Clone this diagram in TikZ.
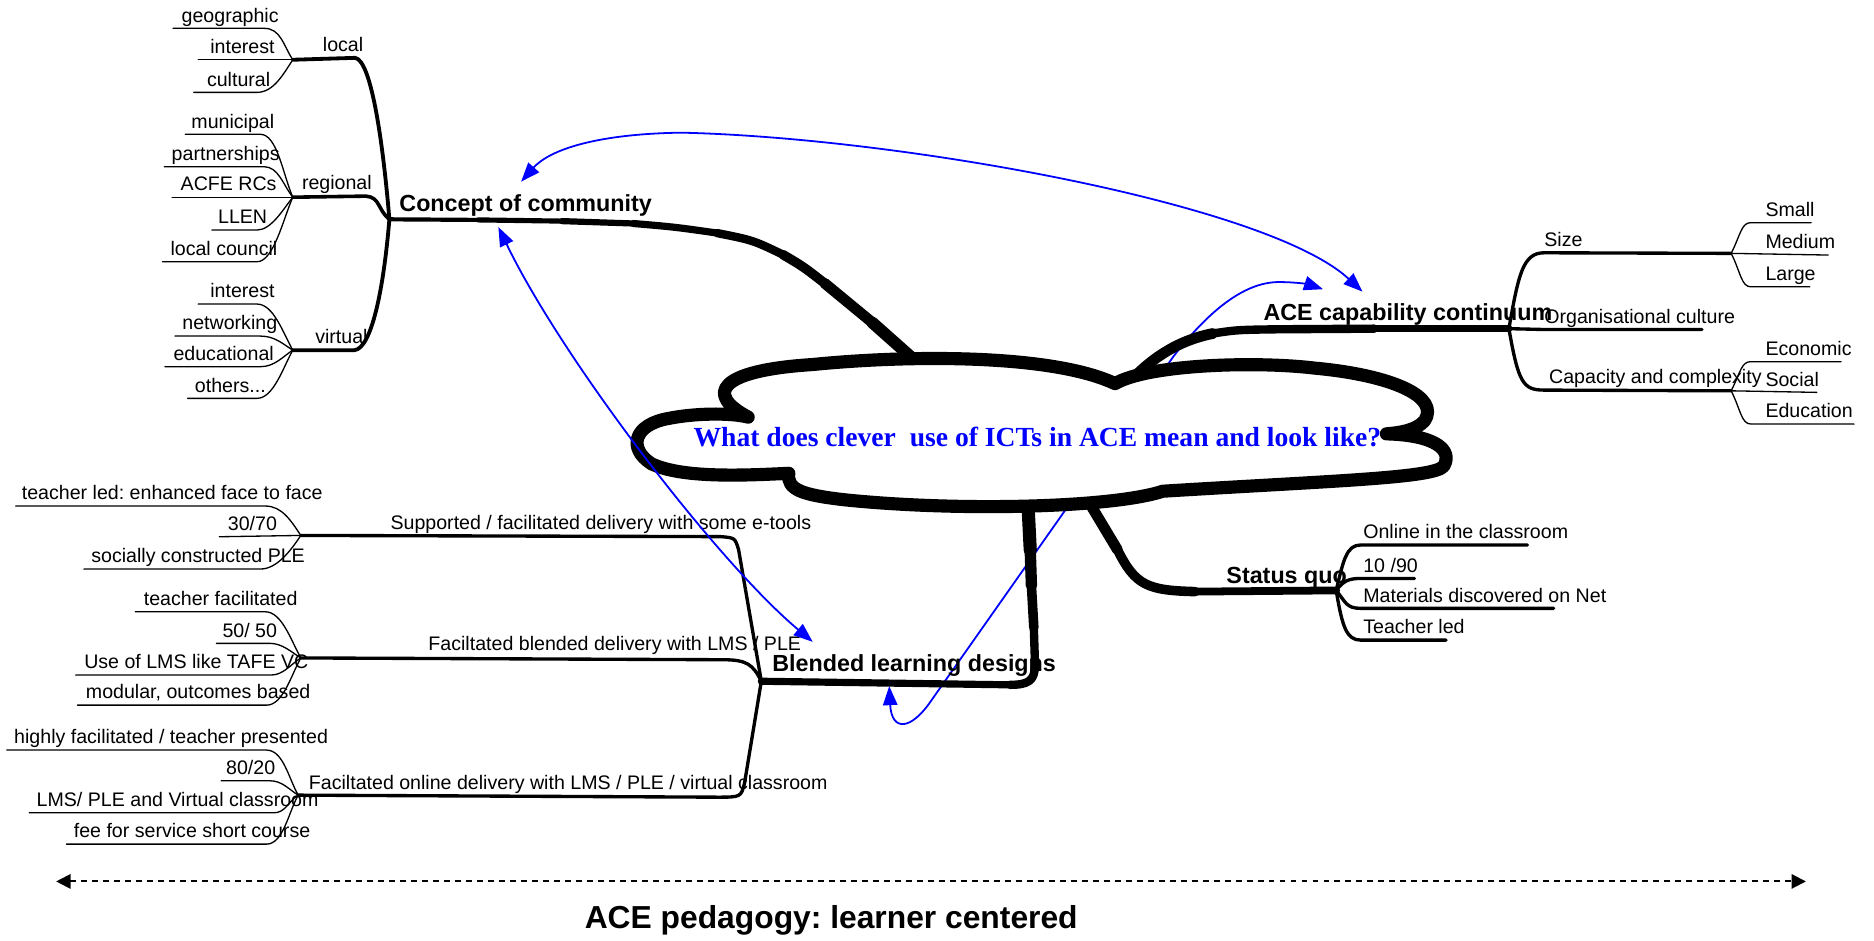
\documentclass[tikz,border=0pt]{standalone}
\usepackage{fontspec}
\setmainfont{Liberation Sans}
\newfontfamily\cloudfont{Liberation Serif}
\usetikzlibrary{arrows.meta}

\begin{document}
\frenchspacing
\begin{tikzpicture}[x=1pt, y=-1pt, line cap=round, line join=round,
  leaf/.style={anchor=south west, inner xsep=0pt, inner ysep=0pt, text depth=5pt, font=\fontsize{16.4}{19}\selectfont},
  heading/.style={anchor=south west, inner xsep=0pt, inner ysep=0pt, text depth=6pt, font=\fontsize{19.5}{23}\selectfont\bfseries},
  twig/.style={line width=1.1pt},
  branch/.style={line width=2.8pt},
  link/.style={draw=blue, line width=1.5pt, arrows={Triangle[length=16pt,width=12pt]-Triangle[length=16pt,width=12pt]}}]
\useasboundingbox (0,0) rectangle (1568,787);
% Hubs and junctions
\coordinate (hcc) at (325.8,183.5);
\coordinate (hace) at (1262.5,275);
\coordinate (hsq) at (1118,494);
\coordinate (hbl) at (637,570);
\coordinate (jloc) at (245,50);
\coordinate (jreg) at (245,165);
\coordinate (jvir) at (245,293);
\coordinate (jsize) at (1448.5,212);
\coordinate (jcap) at (1448.5,327);
\coordinate (jsup) at (251.7,448);
\coordinate (jmid) at (251.7,550.5);
\coordinate (jlow) at (249.5,665.3);
% Blue link that runs behind the cloud
\coordinate (bltipA) at (744,574);
\coordinate (acetipA) at (1107,242);
\draw[link] (bltipA) .. controls (746,612) and (762,612) .. (780,585) -- (982,298) .. controls (1010,262) and (1040,236) .. (1070,236) .. controls (1085,236) and (1095,238) .. (acetipA);
% Trunk to Concept of community
\draw[line width=3.5pt] (hcc) -- (400,184);
\draw[line width=4.3pt] (400,184) -- (470,185);
\draw[line width=5.2pt] (470,185) -- (530,187);
\draw[line width=6pt] (530,187) .. controls (565,190) .. (600,195);
\draw[line width=7pt] (600,195) .. controls (630,201) .. (655,213);
\draw[line width=8pt] (655,213) .. controls (672,223) .. (690,237);
\draw[line width=9pt] (690,237) -- (730,270);
\draw[line width=10pt] (730,270) -- (775,310);
% Trunk to ACE capability continuum
\draw[line width=9pt] (940,325) .. controls (962,300) and (985,285) .. (1015,279);
\draw[line width=7pt] (1015,279) .. controls (1035,276) .. (1070,275.5) -- (1150,275);
\draw[line width=6pt] (1150,275) -- (hace);
% Trunk to Status quo
\draw[line width=9pt] (908,415) .. controls (920,435) .. (935,460);
\draw[line width=8pt] (935,460) .. controls (950,490) and (960,494) .. (1000,495);
\draw[line width=6.5pt] (1000,495) -- (hsq);
% Trunk to Blended learning designs
\draw[line width=11pt] (860,420) -- (862,460);
\draw[line width=9.5pt] (862,460) -- (863,490);
\draw[line width=8pt] (863,490) -- (865,525);
\draw[line width=7pt] (865,525) -- (866,556) .. controls (866,570) and (860,573) .. (845,573);
\draw[line width=6pt] (845,573) -- (hbl);
% Cloud
\draw[line width=11pt, fill=white] (626,349) .. controls (590,330) and (600,310) .. (680,305)
  .. controls (760,297) and (880,296) .. (933,321)
  .. controls (960,305) and (1050,302) .. (1100,308)
  .. controls (1165,314) and (1205,332) .. (1192,352)
  .. controls (1185,360) and (1172,362) .. (1160,363)
  .. controls (1200,364) and (1216,376) .. (1208,390)
  .. controls (1200,400) and (1120,402) .. (973,411)
  .. controls (930,425) and (800,428) .. (705,418)
  .. controls (672,414) and (658,410) .. (660,396)
  .. controls (620,398) and (570,400) .. (545,388)
  .. controls (525,375) and (530,355) .. (560,350)
  .. controls (580,346) and (610,345) .. cycle;
\node[text=blue, font=\cloudfont\fontsize{23.1}{26}\selectfont\bfseries] (question) at (868,366) {What does clever\ \ use of ICTs in ACE mean and look like?};
% Concept of community
\node[heading] (concept) at (334,183) {Concept of community};
\node[leaf] (local) at (270,48.4) {local};
\node[leaf] (regional) at (252.5,164.1) {regional};
\node[leaf] (virtual) at (263.6,293) {virtual};
\draw[line width=3.2pt] (jloc) -- ([xshift=-7pt]local.south east) .. controls +(14,2) and +(-5,-60) .. (hcc);
\draw[line width=3pt] (jreg) -- ([xshift=-5pt]regional.south east) .. controls +(12,1) and +(-10,-8) .. (hcc);
\draw[line width=3.2pt] (jvir) -- ([xshift=-11pt]virtual.south east) .. controls +(14,-2) and +(-5,60) .. (hcc);
\node[leaf] (geo) at (151.8,23.7) {geographic};
\node[leaf] (intl) at (175.8,50) {interest};
\node[leaf] (cult) at (173,77.3) {cultural};
\draw[twig] ([xshift=-7pt]geo.south west) -- (221,23.7) .. controls +(14,0) and +(-8,-12) .. (jloc);
\draw[twig] ([xshift=-10pt]intl.south west) -- (jloc);
\draw[twig] ([xshift=-11pt]cult.south west) -- (215,77.3) .. controls +(14,0) and +(-8,12) .. (jloc);
\node[leaf] (muni) at (160,112.4) {municipal};
\node[leaf] (partn) at (143.5,139.5) {partnerships};
\node[leaf] (acfe) at (151,165) {ACFE RCs};
\node[leaf] (llen) at (182.3,192.5) {LLEN};
\node[leaf] (lcouncil) at (142.5,219) {local council};
\draw[twig] ([xshift=-5pt]muni.south west) -- (218,112.4) .. controls +(14,0) and +(-8,-18) .. (jreg);
\draw[twig] ([xshift=-6pt]partn.south west) -- (221,139.5) .. controls +(12,0) and +(-8,-10) .. (jreg);
\draw[twig] ([xshift=-7pt]acfe.south west) -- (jreg);
\draw[twig] ([xshift=-5pt]llen.south west) -- (215,192.5) .. controls +(12,0) and +(-8,10) .. (jreg);
\draw[twig] ([xshift=-6.5pt]lcouncil.south west) -- (215,219) .. controls +(14,0) and +(-8,18) .. (jreg);
\node[leaf] (intv) at (175.8,254.4) {interest};
\node[leaf] (netw) at (152.4,281.2) {networking};
\node[leaf] (educ) at (145,306.8) {educational};
\node[leaf] (others) at (162.9,333.3) {others...};
\draw[twig] ([xshift=-10pt]intv.south west) -- (215,254.4) .. controls +(14,0) and +(-8,-14) .. (jvir);
\draw[twig] ([xshift=-6pt]netw.south west) -- (218,281.2) .. controls +(12,0) and +(-8,-5) .. (jvir);
\draw[twig] ([xshift=-7pt]educ.south west) -- (218,306.8) .. controls +(12,0) and +(-8,5) .. (jvir);
\draw[twig] ([xshift=-6pt]others.south west) -- (215,333.3) .. controls +(14,0) and +(-8,14) .. (jvir);
% ACE capability continuum
\node[heading] (ace) at (1057,274.5) {ACE capability continuum};
\node[leaf] (size) at (1292,211.5) {Size};
\node[leaf] (orgcult) at (1292,275.7) {Organisational culture};
\node[leaf] (capacity) at (1296,326.4) {Capacity and complexity};
\draw[branch] (hace) .. controls +(8,-45) and +(-18,0) .. (size.south west) -- (jsize);
\draw[branch] (hace) -- (orgcult.south west) -- (1424,275.7);
\draw[branch] (hace) .. controls +(8,45) and +(-18,0) .. ([xshift=-4pt]capacity.south west) -- (jcap);
\node[leaf] (small) at (1477,186.3) {Small};
\node[leaf] (medium) at (1477,213.4) {Medium};
\node[leaf] (large) at (1477,240) {Large};
\draw[twig] (jsize) .. controls +(8,-16) and +(-8,0) .. ([xshift=-12pt]small.south west) -- ([xshift=-3pt]small.south east);
\draw[twig] (jsize) -- ([xshift=-6pt]medium.south east);
\draw[twig] (jsize) .. controls +(8,16) and +(-8,0) .. ([xshift=-12pt]large.south west) -- ([xshift=-5pt]large.south east);
\node[leaf] (econ) at (1477,302.6) {Economic};
\node[leaf] (social) at (1477,328.3) {Social};
\node[leaf] (educn) at (1477,354.8) {Education};
\draw[twig] (jcap) .. controls +(8,-16) and +(-8,0) .. ([xshift=-12pt]econ.south west) -- ([xshift=-9pt]econ.south east);
\draw[twig] (jcap) -- ([xshift=-2pt]social.south east);
\draw[twig] (jcap) .. controls +(8,16) and +(-8,0) .. ([xshift=-12pt]educn.south west) -- ([xshift=1pt]educn.south east);
% Status quo
\node[heading] (status) at (1026,494) {Status quo};
\node[leaf] (online) at (1140.5,456) {Online in the classroom};
\node[leaf] (r1090) at (1140.5,484) {10 /90};
\node[leaf] (mater) at (1140.5,509) {Materials discovered on Net};
\node[leaf] (tled) at (1140.5,535.6) {Teacher led};
\draw[line width=2.8pt] (hsq) .. controls +(6,-25) and +(-12,0) .. ([xshift=-2pt]online.south west) -- (1278,456);
\draw[line width=2.8pt] (hsq) .. controls +(6,-8) and +(-10,0) .. ([xshift=-2pt]r1090.south west) -- ([xshift=-3pt]r1090.south east);
\draw[line width=2.8pt] (hsq) .. controls +(8,10) and +(-12,0) .. ([xshift=-2pt]mater.south west) -- (1300,509);
\draw[line width=2.8pt] (hsq) .. controls +(5,30) and +(-12,0) .. ([xshift=-2pt]tled.south west) -- (1210,535.6);
% Blended learning designs
\node[heading] (blended) at (646,568) {Blended learning designs};
\node[leaf] (supported) at (326.6,448.6) {Supported / facilitated delivery with some e-tools};
\node[leaf] (fblended) at (358.3,549.6) {Faciltated blended delivery with LMS / PLE};
\node[leaf] (fonline) at (258.3,665.7) {Faciltated online delivery with LMS / PLE / virtual classroom};
\draw[branch] (hbl) -- (618,460) .. controls (615,450) .. (603,449) -- (jsup);
\draw[branch] (hbl) .. controls (630,556) and (625,552) .. (605,552) -- (jmid);
\draw[branch] (hbl) -- (623,655) .. controls (620,667) .. (600,667) -- (jlow);
\node[leaf] (tlface) at (18.1,423.4) {teacher led: enhanced face to face};
\node[leaf] (r3070) at (190.5,449.1) {30/70};
\node[leaf] (scple) at (76.2,476.1) {socially constructed PLE};
\draw[twig] ([xshift=-5pt]tlface.south west) -- (222,423.4) .. controls +(14,0) and +(-8,-12) .. (jsup);
\draw[twig] ([xshift=-7pt]r3070.south west) -- (jsup);
\draw[twig] ([xshift=-6pt]scple.south west) -- (218,476.1) .. controls +(14,0) and +(-8,12) .. (jsup);
\node[leaf] (tfac) at (120.2,511.9) {teacher facilitated};
\node[leaf] (r5050) at (186,538.3) {50/ 50};
\node[leaf] (lmstafe) at (70.3,564.8) {Use of LMS like TAFE VC};
\node[leaf] (modular) at (71.7,590) {modular, outcomes based};
\draw[twig] ([xshift=-7pt]tfac.south west) -- (222,511.9) .. controls +(14,0) and +(-8,-14) .. (jmid);
\draw[twig] ([xshift=-5pt]r5050.south west) -- (226,538.3) .. controls +(10,0) and +(-8,-5) .. (jmid);
\draw[twig] ([xshift=-7pt]lmstafe.south west) -- (227,564.8) .. controls +(10,0) and +(-8,5) .. (jmid);
\draw[twig] ([xshift=-7pt]modular.south west) -- (223,590) .. controls +(14,0) and +(-8,14) .. (jmid);
\node[leaf] (highly) at (11.7,627.6) {highly facilitated / teacher presented};
\node[leaf] (r8020) at (189,653.3) {80/20};
\node[leaf] (lmsple) at (30.5,680.1) {LMS/ PLE and Virtual classroom};
\node[leaf] (fee) at (61.6,706.3) {fee for service short course};
\draw[twig] ([xshift=-6pt]highly.south west) -- (223,627.6) .. controls +(14,0) and +(-8,-14) .. (jlow);
\draw[twig] ([xshift=-4pt]r8020.south west) -- (226,653.3) .. controls +(10,0) and +(-8,-5) .. (jlow);
\draw[twig] ([xshift=-6pt]lmsple.south west) -- (229,680.1) .. controls +(10,0) and +(-8,5) .. (jlow);
\draw[twig] ([xshift=-6pt]fee.south west) -- (223,706.3) .. controls +(14,0) and +(-8,14) .. (jlow);
% Blue links in front
\coordinate (cctipA) at (436,152);
\coordinate (acetipB) at (1140,244);
\draw[link] (cctipA) .. controls (460,125) and (500,112) .. (570,111) .. controls (750,115) and (1060,170) .. (acetipB);
\coordinate (cctipB) at (417,190);
\coordinate (bltipB) at (680,537);
\draw[link] (cctipB) .. controls (470,300) and (600,470) .. (bltipB);
% Pedagogy scale
\coordinate (pedL) at (47,737.5);
\coordinate (pedR) at (1511,737.5);
\draw[line width=1.7pt, dash pattern=on 5pt off 4.2pt, line cap=butt, arrows={Triangle[length=12pt,width=12pt]-Triangle[length=12pt,width=12pt]}] (pedL) -- (pedR);
\node[font=\fontsize{26.6}{30}\selectfont\bfseries] (pedagogy) at (695.5,770) {ACE pedagogy: learner centered};
\end{tikzpicture}
\end{document}
